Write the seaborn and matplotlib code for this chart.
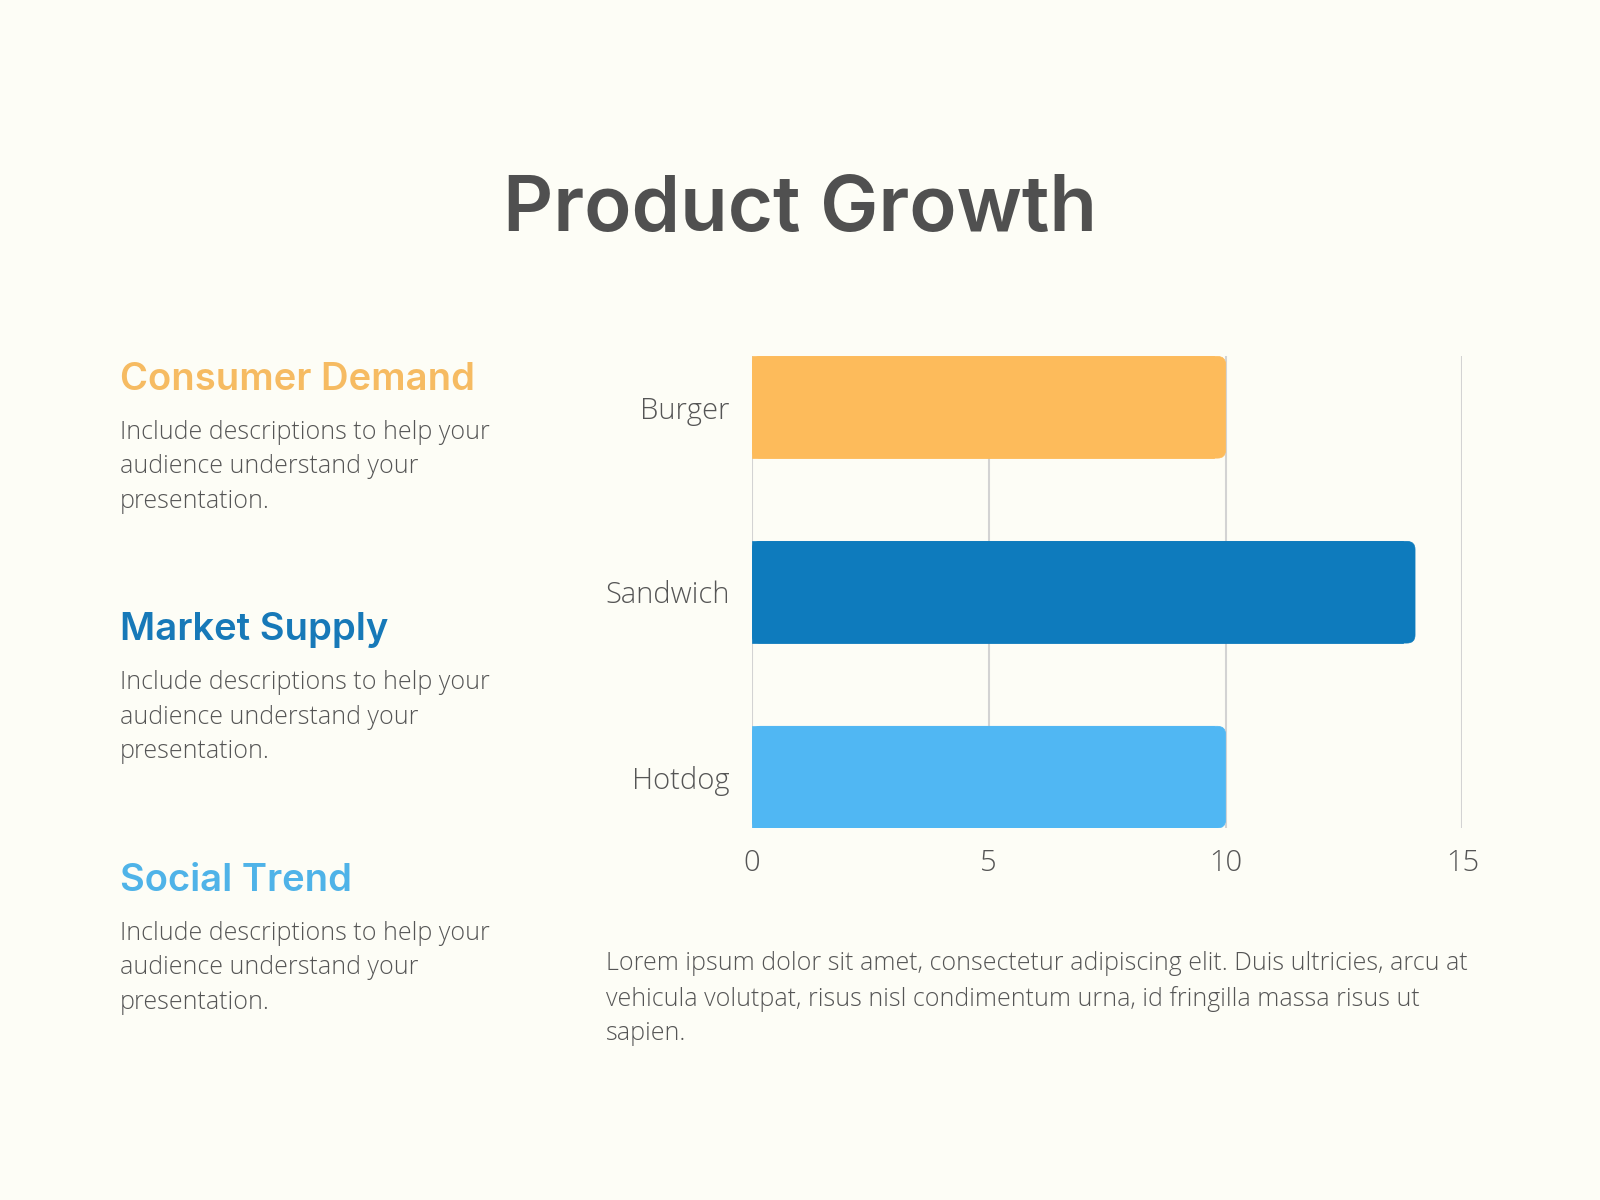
import matplotlib
matplotlib.use("Agg")
import matplotlib.pyplot as plt
import seaborn as sns
import pandas as pd
from matplotlib.patches import FancyBboxPatch, Rectangle

# data
products = ["Burger", "Sandwich", "Hotdog"]
growth = [10, 14, 10]
bar_colors = ["#FDBB5B", "#0E7BBD", "#50B7F3"]
x_ticks = [0, 5, 10, 15]

headings = ["Consumer Demand", "Market Supply", "Social Trend"]
heading_colors = ["#F6BB62", "#1779B8", "#4FB3E8"]
desc = "Include descriptions to help your\naudience understand your\npresentation."
footer = ("Lorem ipsum dolor sit amet, consectetur adipiscing elit. Duis ultricies, arcu at\n"
          "vehicula volutpat, risus nisl condimentum urna, id fringilla massa risus ut\n"
          "sapien.")

bg = "#FDFDF6"
text_grey = "#555555"

sns.set_style("white")
plt.rcParams["font.family"] = ["Open Sans", "DejaVu Sans"]

fig = plt.figure(figsize=(16, 12), dpi=100, facecolor=bg)
ax = fig.add_axes([0.47, 0.31, 0.444, 0.393])
ax.set_facecolor(bg)
ax.set_axisbelow(True)

df = pd.DataFrame({"product": products, "growth": growth})
sns.barplot(data=df, x="growth", y="product", hue="product", palette=bar_colors,
            width=0.55, saturation=1, legend=False, ax=ax, zorder=3)

ax.set_xlim(0, 15)
ax.set_ylim(2.275, -0.275)
ax.set_xticks(x_ticks)
ax.grid(axis="x", color="#D3D3D3", linewidth=1.5, zorder=0)
ax.grid(axis="y", visible=False)
for s in ax.spines.values():
    s.set_visible(False)
ax.set_xlabel("")
ax.set_ylabel("")
ax.tick_params(axis="both", length=0, labelsize=21, labelcolor=text_grey)
ax.tick_params(axis="x", pad=15)
ax.tick_params(axis="y", pad=16)
for lab in ax.get_xticklabels() + ax.get_yticklabels():
    lab.set_fontweight("light")

# rounded right ends of the bars
rad = 0.17
aspect = 0.256
for p in list(ax.patches):
    x0, y0 = p.get_x(), p.get_y()
    w, h = p.get_width(), p.get_height()
    c = p.get_facecolor()
    p.set_visible(False)
    ax.add_patch(FancyBboxPatch((x0, y0), w, h, boxstyle=f"round,pad=0,rounding_size={rad}",
                                mutation_aspect=aspect, facecolor=c, edgecolor=c,
                                linewidth=0.5, zorder=3))
    ax.add_patch(Rectangle((x0, y0), w - rad * 1.5, h, facecolor=c, edgecolor=c,
                           linewidth=0.5, zorder=3))

# title
fig.text(0.5, 1 - 210 / 1200, "Product Growth", ha="center", va="center",
         fontsize=56, fontweight="semibold", color="#505050", family=["Inter", "DejaVu Sans"])

# left column
for i, (hd, col) in enumerate(zip(headings, heading_colors)):
    y = 380 + i * 250.5
    fig.text(120 / 1600, 1 - y / 1200, hd, ha="left", va="center", fontsize=27.5,
             fontweight="semibold", color=col, family=["Inter", "DejaVu Sans"])
    fig.text(120 / 1600, 1 - (y + 54) / 1200 + 0.012, desc, ha="left", va="top", fontsize=18,
             fontweight="light", color=text_grey, linespacing=1.5)

fig.text(606 / 1600, 1 - 965 / 1200 + 0.012, footer, ha="left", va="top", fontsize=18,
         fontweight="light", color=text_grey, linespacing=1.5)

fig.savefig("out.png", dpi=100, facecolor=bg)
